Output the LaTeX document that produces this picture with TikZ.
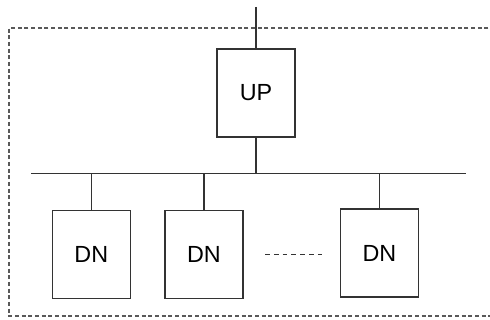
\documentclass[tikz,border=0pt]{standalone}
\usepackage{fontspec}
\setmainfont{Liberation Sans}
\usepackage{tikz}
\usetikzlibrary{positioning}

\tikzset{
  unit/.style={draw=black!80,line width=.9pt,minimum width=58.5pt,minimum height=66pt,inner sep=0pt,font=\fontsize{17.5}{20}\selectfont},
  wire/.style={draw=black!80,line width=.9pt},
  frame/.style={draw=black!65,line width=.8pt,dash pattern=on 3pt off 2pt}
}

\begin{document}
\begin{tikzpicture}[x=0.75pt,y=-0.75pt]
				\useasboundingbox (0,0) rectangle (490,320);
				\draw[frame] (495,28) -- (9,28) -- (9,316) -- (495,316);
				\node[unit] (up) at (256,93) {UP};
				\node[unit] (dn1) at (91.3,254.5) {DN};
				\node[unit] (dn2) at (204,254.5) {DN};
				\node[unit] (dn3) at (379.5,253) {DN};
				\coordinate (feed) at (256,7);
				\coordinate (busL) at (31,173.3);
				\coordinate (busR) at (466,173.3);
				\coordinate (dotsL) at (265,254.7);
				\coordinate (dotsR) at (322,254.7);
				\draw[wire] (feed) -- (up.north);
				\draw[wire] (busL) -- (busR);
				\draw[wire] (up.south) -- (up.south |- busL);
				\draw[wire] (dn1.north) -- (dn1.north |- busL);
				\draw[wire] (dn2.north) -- (dn2.north |- busL);
				\draw[wire] (dn3.north) -- (dn3.north |- busL);
				\draw[wire,line width=.7pt,dash pattern=on 3.6pt off 3pt] (dotsL) -- (dotsR);
			\end{tikzpicture}
\end{document}
